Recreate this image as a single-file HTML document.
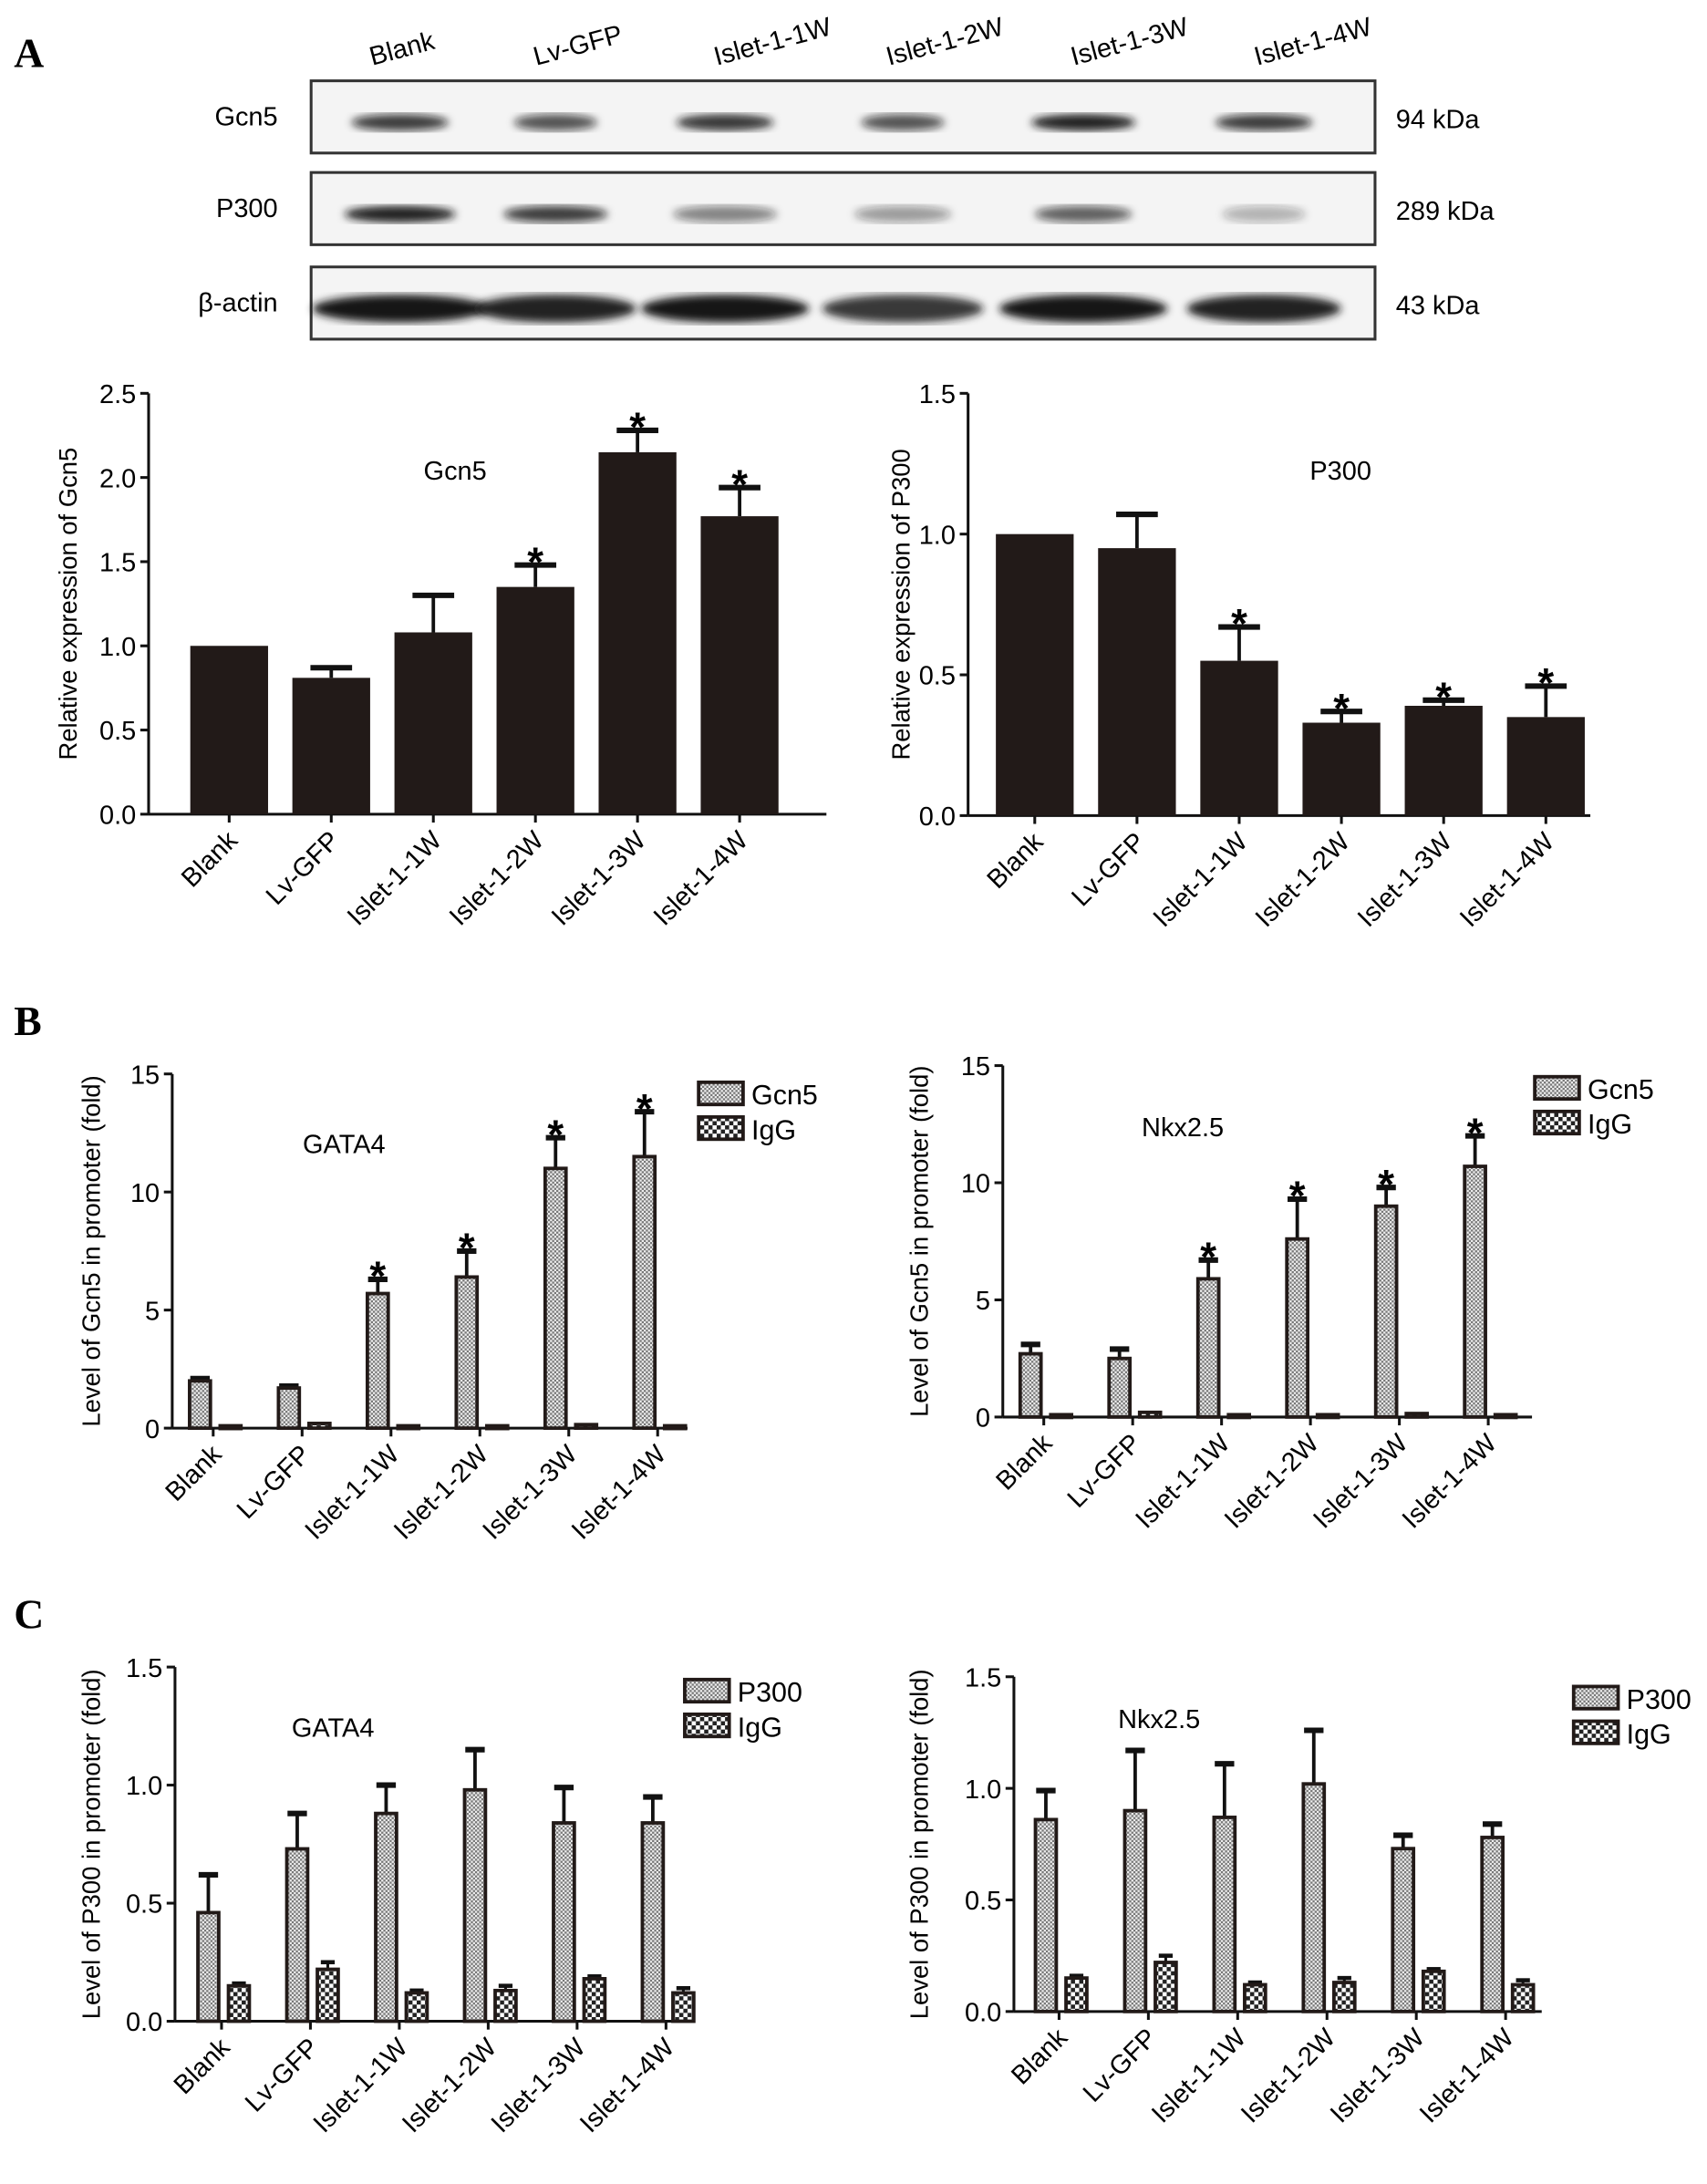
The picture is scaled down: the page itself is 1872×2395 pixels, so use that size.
<!DOCTYPE html>
<html><head><meta charset="utf-8"><style>
html,body{margin:0;padding:0;background:#fff;}
svg{display:block;font-family:"Liberation Sans",Arial,sans-serif;}
</style></head><body>
<svg id="fig" width="1872" height="2395" viewBox="0 0 1229 1572" xmlns="http://www.w3.org/2000/svg">
<defs>
<pattern id="hatch" width="3" height="3" patternUnits="userSpaceOnUse"><rect width="3" height="3" fill="#eee"/><rect width="1.5" height="1.5" fill="#777"/><rect x="1.5" y="1.5" width="1.5" height="1.5" fill="#777"/></pattern>
<pattern id="check" width="6" height="6" patternUnits="userSpaceOnUse"><rect width="6" height="6" fill="#fff"/><rect width="3" height="3" fill="#222"/><rect x="3" y="3" width="3" height="3" fill="#222"/></pattern>
<filter id="blur"><feGaussianBlur stdDeviation="3"/></filter>
</defs>
<g id="blot"></g>
<g id="charts"></g>
</svg>
<script>
const NS="http://www.w3.org/2000/svg";
const svg=document.getElementById('charts');
function el(tag,attrs,parent,text){const e=document.createElementNS(NS,tag);for(const k in attrs)e.setAttribute(k,attrs[k]);if(text!==undefined)e.textContent=text;(parent||svg).appendChild(e);return e;}

const categories=["Blank","Lv-GFP","Islet-1-1W","Islet-1-2W","Islet-1-3W","Islet-1-4W"];
// Panel A
const gcn5Rel=[1.0,0.81,1.08,1.35,2.15,1.77];
const gcn5RelErr=[0,0.06,0.22,0.13,0.13,0.17];
const gcn5RelSig=[0,0,0,1,1,1];
const p300Rel=[1.0,0.95,0.55,0.33,0.39,0.35];
const p300RelErr=[0,0.12,0.12,0.04,0.02,0.11];
const p300RelSig=[0,0,1,1,1,1];
// Panel B
const bGataGcn5=[2.0,1.7,5.7,6.4,11.0,11.5];
const bGataGcn5Err=[0.1,0.08,0.6,1.1,1.3,1.9];
const bGataIgG=[0.1,0.2,0.1,0.1,0.15,0.1];
const bGataSig=[0,0,1,1,1,1];
const bNkxGcn5=[2.7,2.5,5.9,7.6,9.0,10.7];
const bNkxGcn5Err=[0.4,0.4,0.8,1.7,0.8,1.3];
const bNkxIgG=[0.1,0.2,0.1,0.1,0.15,0.1];
const bNkxSig=[0,0,1,1,1,1];
// Panel C
const cGataP300=[0.46,0.73,0.88,0.98,0.84,0.84];
const cGataP300Err=[0.16,0.15,0.12,0.17,0.15,0.11];
const cGataIgG=[0.15,0.22,0.12,0.13,0.18,0.12];
const cGataIgGErr=[0.01,0.03,0.01,0.02,0.01,0.02];
const cNkxP300=[0.86,0.90,0.87,1.02,0.73,0.78];
const cNkxP300Err=[0.13,0.27,0.24,0.24,0.06,0.06];
const cNkxIgG=[0.15,0.22,0.12,0.13,0.18,0.12];
const cNkxIgGErr=[0.01,0.03,0.01,0.02,0.01,0.02];

const ticksA1=[0,0.5,1.0,1.5,2.0,2.5];
const ticksA2=[0,0.5,1.0,1.5];
const ticksB=[0,5,10,15];
const ticksC=[0,0.5,1.0,1.5];

// Western blot
(function(){
  const g=document.getElementById('blot');
  categories.forEach((c,i)=>{
    const t=el('text',{x:0,y:0,'font-size':19,transform:`translate(${[268,386,516,640,773,905][i]},47) rotate(-15)`},g,c);
    
    
  });
  const rows=[{n:'Gcn5',y:58,kd:'94 kDa',int:[.8,.7,.85,.7,.95,.8],w:[70,60,70,60,75,70]},
              {n:'P300',y:124,kd:'289 kDa',int:[.95,.8,.5,.4,.65,.3],w:[80,75,75,70,70,60]},
              {n:'β-actin',y:192,kd:'43 kDa',int:[1,.95,1,.85,1,.95],w:[110,100,105,100,105,95]}];
  rows.forEach(r=>{
    const box=el('rect',{x:224,y:r.y,width:766,height:52,fill:'#f4f4f4',stroke:'#333','stroke-width':2},g);
    
    
    el('text',{x:200,y:r.y+32,'font-size':19,'text-anchor':'end'},g,r.n);
    el('text',{x:1005,y:r.y+34,'font-size':19},g,r.kd);
    const cx=[288,400,522,650,780,910];
    cx.forEach((x,i)=>{
      const b=el('ellipse',{cx:x,cy:r.y+30,rx:r.w[i]/2+(r.n==='β-actin'?8:0),ry:r.n==='β-actin'?10:6,fill:`rgba(20,20,20,${r.int[i]})`,filter:'url(#blur)'},g);
      
      
    });
  });
  const lbl=el('text',{x:10,y:48,'font-size':30,'font-weight':'bold','font-family':'Liberation Serif'},g,'A');
  
  
})();

function chart(o){
  const g=el('g',{});
  
  
  const y=v=>o.y0-(v/o.max)*(o.y0-o.y1);
  el('line',{x1:o.ax,y1:o.y1,x2:o.ax,y2:o.y0,stroke:'#111','stroke-width':2},g);
  el('line',{x1:o.ax,y1:o.y0,x2:o.xEnd,y2:o.y0,stroke:'#111','stroke-width':2},g);
  o.ticks.forEach(t=>{
    el('line',{x1:o.ax-6,y1:y(t),x2:o.ax,y2:y(t),stroke:'#111','stroke-width':2},g);
    const tl=el('text',{x:o.ax-9,y:y(t)+7,'font-size':19,'text-anchor':'end'},g,o.fmt(t));
    
    
  });
  const yt=el('text',{x:0,y:0,'font-size':18,'text-anchor':'middle',transform:`translate(${o.ytX},${(o.y0+o.y1)/2}) rotate(-90)`},g,o.ytitle);
  
  
  const tt=el('text',{x:o.titleX,y:o.titleY,'font-size':19},g,o.title);
  
  
  categories.forEach((c,i)=>{
    const cx=o.x0+i*o.step;
    const tick=o.single?cx:cx+o.bw/2+2;
    el('line',{x1:tick,y1:o.y0,x2:tick,y2:o.y0+6,stroke:'#111','stroke-width':2},g);
    const lab=el('text',{x:0,y:0,'font-size':19,'text-anchor':'end',transform:`translate(${tick+7},${o.y0+20}) rotate(-45)`},g,c);
    
    
    const v=o.vals[i];
    const bx=cx-o.bw/2;
    const top=y(v+o.err[i]);
    if(o.err[i]>0){
      el('line',{x1:cx,y1:y(v),x2:cx,y2:top,stroke:'#111','stroke-width':2.5},g);
      el('line',{x1:cx-o.cap,y1:top,x2:cx+o.cap,y2:top,stroke:'#111','stroke-width':4},g);
    }
    const bar=el('rect',{x:bx,y:y(v),width:o.bw,height:o.y0-y(v),fill:o.single?'#221a18':'url(#hatch)',stroke:'#221a18','stroke-width':o.single?0:2.5},g);
    
    
    if(o.sig&&o.sig[i]){
      const s=el('text',{x:cx,y:top+8,'font-size':30,'text-anchor':'middle','font-weight':'bold'},g,'*');
      
      
    }
    if(o.igg){
      const ix=cx+o.bw+7;
      const iv=o.igg[i];
      if(o.iggErr){const it=y(iv+o.iggErr[i]);
        el('line',{x1:ix,y1:y(iv),x2:ix,y2:it,stroke:'#111','stroke-width':2},g);
        el('line',{x1:ix-5,y1:it,x2:ix+5,y2:it,stroke:'#111','stroke-width':3},g);}
      const ib=el('rect',{x:ix-o.bw/2,y:y(iv),width:o.bw,height:Math.max(o.y0-y(iv),2),fill:'url(#check)',stroke:'#221a18','stroke-width':2.5},g);
      
      
    }
  });
  if(o.legend){
    const [lx,ly]=o.legend;
    const l1=el('rect',{x:lx,y:ly,width:32,height:16,fill:'url(#hatch)',stroke:'#221a18','stroke-width':2.5},g);
    
    
    el('text',{x:lx+38,y:ly+16,'font-size':20},g,o.legend1);
    const l2=el('rect',{x:lx,y:ly+25,width:32,height:16,fill:'url(#check)',stroke:'#221a18','stroke-width':2.5},g);
    
    
    el('text',{x:lx+38,y:ly+41,'font-size':20},g,'IgG');
  }
}
const f1=t=>t.toFixed(1), f0=t=>String(t);
chart({name:'chart-gcn5-relative',ax:107,y0:586,y1:283,max:2.5,xEnd:595,x0:165,step:73.5,bw:56,single:true,vals:gcn5Rel,err:gcn5RelErr,sig:gcn5RelSig,cap:15,ticks:ticksA1,fmt:f1,ytX:55,ytitle:'Relative expression of Gcn5',title:'Gcn5',titleX:305,titleY:345});
chart({name:'chart-p300-relative',ax:697,y0:587,y1:283,max:1.5,xEnd:1145,x0:745,step:73.6,bw:56,single:true,vals:p300Rel,err:p300RelErr,sig:p300RelSig,cap:15,ticks:ticksA2,fmt:f1,ytX:655,ytitle:'Relative expression of P300',title:'P300',titleX:943,titleY:345});
chart({name:'chart-b-gata4',ax:124,y0:1028,y1:773,max:15,xEnd:495,x0:144,step:64,bw:15,vals:bGataGcn5,err:bGataGcn5Err,igg:bGataIgG,sig:bGataSig,cap:7,ticks:ticksB,fmt:f0,ytX:72,ytitle:'Level of Gcn5 in promoter (fold)',title:'GATA4',titleX:218,titleY:830,legend:[503,779],legend1:'Gcn5'});
chart({name:'chart-b-nkx25',ax:722,y0:1020,y1:767,max:15,xEnd:1103,x0:742,step:64,bw:15,vals:bNkxGcn5,err:bNkxGcn5Err,igg:bNkxIgG,sig:bNkxSig,cap:7,ticks:ticksB,fmt:f0,ytX:668,ytitle:'Level of Gcn5 in promoter (fold)',title:'Nkx2.5',titleX:822,titleY:818,legend:[1105,775],legend1:'Gcn5'});
chart({name:'chart-c-gata4',ax:126,y0:1455,y1:1200,max:1.5,xEnd:500,x0:150,step:64,bw:15,vals:cGataP300,err:cGataP300Err,igg:cGataIgG,iggErr:cGataIgGErr,cap:7,ticks:ticksC,fmt:f1,ytX:72,ytitle:'Level of P300 in promoter (fold)',title:'GATA4',titleX:210,titleY:1250,legend:[493,1209],legend1:'P300'});
chart({name:'chart-c-nkx25',ax:730,y0:1448,y1:1207,max:1.5,xEnd:1110,x0:753,step:64.3,bw:15,vals:cNkxP300,err:cNkxP300Err,igg:cNkxIgG,iggErr:cNkxIgGErr,cap:7,ticks:ticksC,fmt:f1,ytX:668,ytitle:'Level of P300 in promoter (fold)',title:'Nkx2.5',titleX:805,titleY:1244,legend:[1133,1214],legend1:'P300'});
[['B',745],['C',1172]].forEach(([t,yy])=>{
  const p=el('text',{x:10,y:yy,'font-size':30,'font-weight':'bold','font-family':'Liberation Serif'},svg,t);
  
  
});
</script>
</body></html>
